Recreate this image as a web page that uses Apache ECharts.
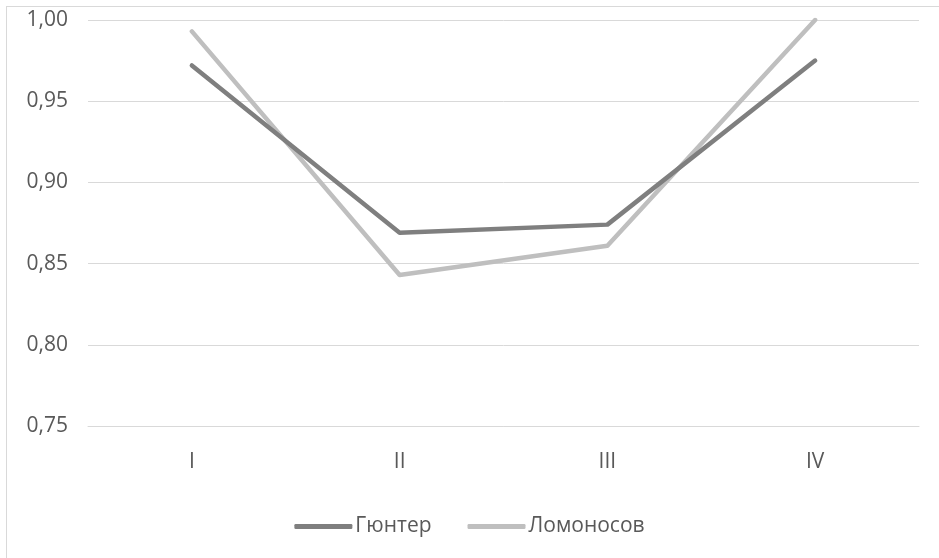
<!DOCTYPE html>
<html>
<head>
<meta charset="utf-8">
<script src="https://cdn.jsdelivr.net/npm/echarts@6/dist/echarts.min.js"></script>
<style>
  html, body { margin: 0; padding: 0; background: #fff; overflow: hidden; }
  #frame { position: absolute; left: 6px; top: 6px; width: 1000px; height: 700px;
           border-left: 1px solid #d9d9d9; border-top: 1px solid #d9d9d9; }
  #chart { position: absolute; left: 0; top: 0; width: 939px; height: 558px; }
</style>
</head>
<body>
<div id="frame"></div>
<div id="chart"></div>
<script>
// Quarters and the two coefficient series
const categories = ['I', 'II', 'III', 'IV'];
const gunterValues = [0.972, 0.869, 0.874, 0.975];
const lomonosovValues = [0.993, 0.843, 0.861, 1.000];
const yTicks = { min: 0.75, max: 1.00, step: 0.05 };

const textColor = '#595959';
const fontFamily = '"Open Sans", "Noto Sans", sans-serif';
const fontSize = 21;

const chart = echarts.init(document.getElementById('chart'));
chart.setOption({
  animation: false,
  grid: { left: 88, right: 20, top: 20, bottom: 132 },
  legend: {
    top: 511,
    left: 'center',
    itemWidth: 58,
    itemHeight: 5,
    itemGap: 36,
    icon: 'roundRect',
    textStyle: { color: textColor, fontSize: fontSize, fontFamily: fontFamily, padding: [0, 0, 0, -2] },
    data: ['Гюнтер', 'Ломоносов']
  },
  xAxis: {
    type: 'category',
    data: categories,
    boundaryGap: true,
    axisLine: { show: true, lineStyle: { color: '#d9d9d9', width: 1 } },
    axisTick: { show: false },
    axisLabel: { color: textColor, fontSize: fontSize, fontFamily: fontFamily, margin: 26 }
  },
  yAxis: {
    type: 'value',
    min: yTicks.min,
    max: yTicks.max,
    interval: yTicks.step,
    axisLine: { show: false },
    axisTick: { show: false },
    splitLine: { lineStyle: { color: '#d9d9d9', width: 1 } },
    axisLabel: {
      color: textColor, fontSize: fontSize, fontFamily: fontFamily, margin: 20,
      formatter: v => v.toFixed(2).replace('.', ',')
    }
  },
  series: [
    {
      name: 'Гюнтер',
      type: 'line',
      data: gunterValues,
      symbol: 'none',
      itemStyle: { color: '#7f7f7f' },
      lineStyle: { color: '#7f7f7f', width: 4.5, cap: 'round', join: 'round' },
      z: 3
    },
    {
      name: 'Ломоносов',
      type: 'line',
      data: lomonosovValues,
      symbol: 'none',
      itemStyle: { color: '#bfbfbf' },
      lineStyle: { color: '#bfbfbf', width: 4.5, cap: 'round', join: 'round' },
      z: 2
    }
  ]
});
</script>
</body>
</html>
